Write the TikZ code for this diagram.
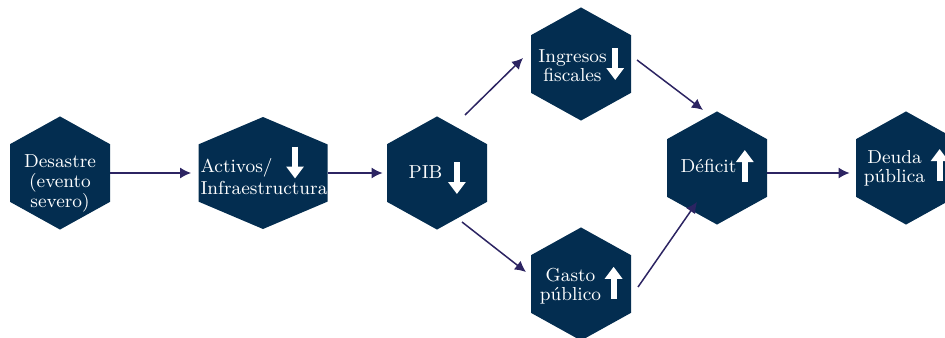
\documentclass[tikz,border=0pt]{standalone}
\usepackage{xcolor}
\definecolor{hexblue}{RGB}{3,45,80}
\definecolor{linkpurple}{RGB}{44,36,98}
\usepackage{tikz}
\usetikzlibrary{arrows.meta}
\usetikzlibrary{shapes.symbols}
\newcommand{\baja}[1][-4.5pt]{\tikz[baseline=#1]\draw[white, line width=3pt, -{Triangle[width=8.5pt,length=6pt]}] (0pt,8pt) -- (0pt,-8pt);}
\newcommand{\sube}[1][-4.5pt]{\tikz[baseline=#1]\draw[white, line width=3pt, -{Triangle[width=8.5pt,length=6pt]}] (0pt,-8pt) -- (0pt,8pt);}
\newcommand{\dos}[2]{\begin{tabular}{@{}c@{}}#1\\#2\end{tabular}}
\tikzset{
    hexa/.style={signal, signal to=north and south, signal pointer angle=122, fill=hexblue,
        text=white, minimum width=50pt, minimum height=56pt, inner sep=1pt,
        text width=47pt, align=center, text height=5pt, text depth=5pt,
        font=\fontsize{9.4}{9.6}\selectfont},
    widehexa/.style={hexa, signal pointer angle=134, minimum width=64.5pt,
        text width=62.5pt, align=left},
    link/.style={-{Latex[length=5.5pt,width=5.5pt]}, linkpurple, line width=0.75pt}
}

\begin{document}
\begin{tikzpicture}[x=0.5pt,y=-0.5pt]
    \useasboundingbox (0,0) rectangle (945,337);

    % hexagons
    \node[hexa] (des) at (60,173)
        {\raisebox{-7.5pt}{\begin{tabular}{@{}c@{}}Desastre\\(evento\\severo)\end{tabular}}};
    \node[widehexa] (act) at (263,173)
        {\raisebox{-1.8pt}{\begin{tabular}{@{}l@{}}Activos/\hspace{7pt}\baja[-5pt]\\Infraestructura\end{tabular}}};
    \node[hexa] (pib) at (437,173) {\raisebox{-2.5pt}{PIB\hspace{3pt}\baja[0pt]}};
    \node[hexa] (ing) at (581,64) {\raisebox{-4.5pt}{\dos{Ingresos}{fiscales}\baja}};
    \node[hexa] (gas) at (581,284) {\raisebox{-3.9pt}{\dos{Gasto}{público}\hspace{2pt}\sube}};
    \node[hexa] (def) at (717,168) {\raisebox{-2pt}{Déficit\sube[-3pt]}};
    \node[hexa] (deu) at (906,168) {\raisebox{-3pt}{\dos{Deuda}{pública}\hspace{3pt}\sube}};

    % connectors
    \draw[link, shorten >=3.5pt] (des) -- (act);
    \draw[link, shorten >=2pt] (act) -- (pib);
    \draw[link] ([shift={(28,-58)}]pib.center) -- ([shift={(-58,-6)}]ing.center);
    \draw[link] ([shift={(25,49)}]pib.center) -- ([shift={(-55,-12)}]gas.center);
    \draw[link] ([shift={(56,-4)}]ing.center) -- ([shift={(-14,-58)}]def.center);
    \draw[link] ([shift={(57,3)}]gas.center) -- ([shift={(-20,34)}]def.center);
    \draw[link] ([shift={(0,5)}]def.east) -- ([shift={(-6,5)}]deu.west);
\end{tikzpicture}
\end{document}
